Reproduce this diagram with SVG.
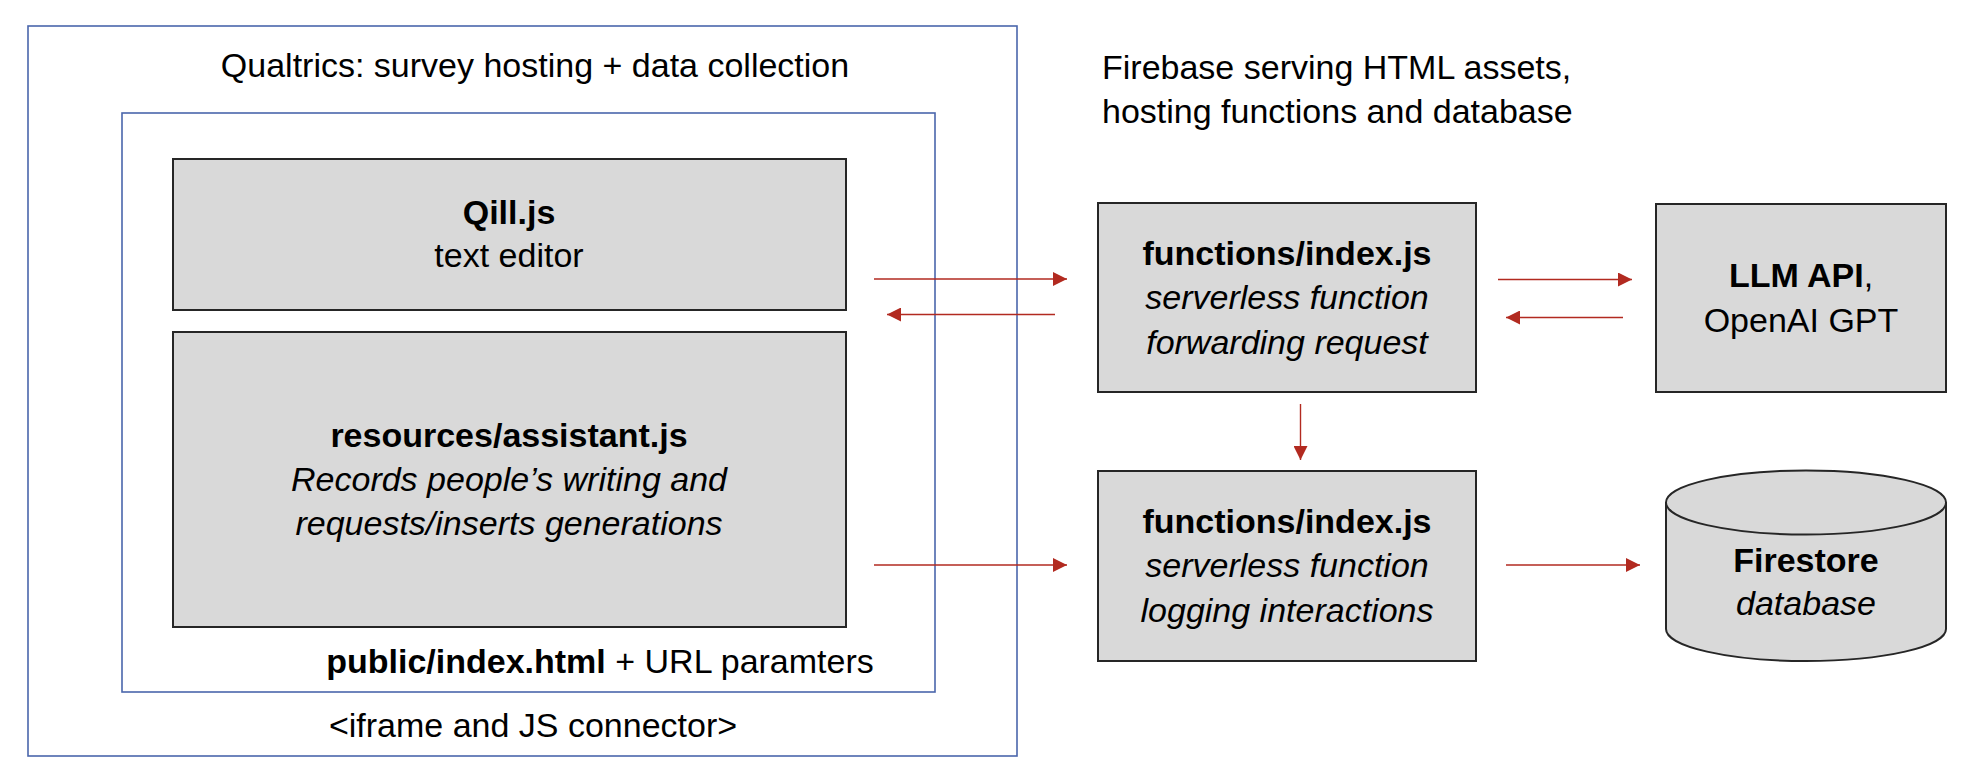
<svg xmlns="http://www.w3.org/2000/svg" width="1972" height="776" viewBox="0 0 1972 776">
<defs>
<style>
text{font-family:"Liberation Sans",Arial,sans-serif;font-size:34px;fill:#000}
.b{font-weight:bold}
.i{font-style:italic}
.m{text-anchor:middle}
.frame{fill:none;stroke:#4A66AC;stroke-width:1.6}
.box{fill:#D9D9D9;stroke:#262626;stroke-width:2}
.conn line{stroke:#B22A20;stroke-width:1.4}
</style>
<marker id="ah" markerUnits="userSpaceOnUse" markerWidth="14" markerHeight="14" refX="14" refY="7" orient="auto">
<path d="M0,0 L14,7 L0,14 z" fill="#B22A20"/>
</marker>
</defs>
<rect width="1972" height="776" fill="#fff"/>
<g id="qualtrics">
<rect class="frame" x="28" y="26" width="989" height="730"/>
<text class="m" x="535" y="77">Qualtrics: survey hosting + data collection</text>
<text class="m" x="533" y="737">&lt;iframe and JS connector&gt;</text>
</g>
<g id="public-index">
<rect class="frame" x="122" y="113" width="813" height="579"/>
<text class="m" x="600" y="673"><tspan class="b">public/index.html</tspan> + URL paramters</text>
</g>
<g id="quill">
<rect class="box" x="173" y="159" width="673" height="151"/>
<text class="m b" x="509" y="224">Qill.js</text>
<text class="m" x="509" y="267">text editor</text>
</g>
<g id="assistant">
<rect class="box" x="173" y="332" width="673" height="295"/>
<text class="m b" x="509" y="447">resources/assistant.js</text>
<text class="m i" x="509" y="491">Records people’s writing and</text>
<text class="m i" x="509" y="535">requests/inserts generations</text>
</g>
<g id="firebase-label">
<text x="1102" y="79">Firebase serving HTML assets,</text>
<text x="1102" y="123">hosting functions and database</text>
</g>
<g id="functions-forward">
<rect class="box" x="1098" y="203" width="378" height="189"/>
<text class="m b" x="1287" y="265">functions/index.js</text>
<text class="m i" x="1287" y="309">serverless function</text>
<text class="m i" x="1287" y="354">forwarding request</text>
</g>
<g id="llm">
<rect class="box" x="1656" y="204" width="290" height="188"/>
<text class="m" x="1801" y="287"><tspan class="b">LLM API</tspan>,</text>
<text class="m" x="1801" y="332">OpenAI GPT</text>
</g>
<g id="functions-log">
<rect class="box" x="1098" y="471" width="378" height="190"/>
<text class="m b" x="1287" y="533">functions/index.js</text>
<text class="m i" x="1287" y="577">serverless function</text>
<text class="m i" x="1287" y="622">logging interactions</text>
</g>
<g id="firestore">
<path class="box" d="M1666,502.5 L1666,629 A140,32 0 0 0 1946,629 L1946,502.5 A140,32 0 0 0 1666,502.5 Z"/>
<path d="M1666,502.5 A140,32 0 0 0 1946,502.5" fill="none" stroke="#262626" stroke-width="2"/>
<text class="m b" x="1806" y="572">Firestore</text>
<text class="m i" x="1806" y="615">database</text>
</g>
<g class="conn" id="connectors">
<line x1="874" y1="279" x2="1067" y2="279" marker-end="url(#ah)"/>
<line x1="1055" y1="314.5" x2="887" y2="314.5" marker-end="url(#ah)"/>
<line x1="1498" y1="279.5" x2="1632" y2="279.5" marker-end="url(#ah)"/>
<line x1="1623" y1="317.5" x2="1506" y2="317.5" marker-end="url(#ah)"/>
<line x1="1300.5" y1="404" x2="1300.5" y2="460" marker-end="url(#ah)"/>
<line x1="874" y1="565" x2="1067" y2="565" marker-end="url(#ah)"/>
<line x1="1506" y1="565" x2="1640" y2="565" marker-end="url(#ah)"/>
</g>
</svg>
